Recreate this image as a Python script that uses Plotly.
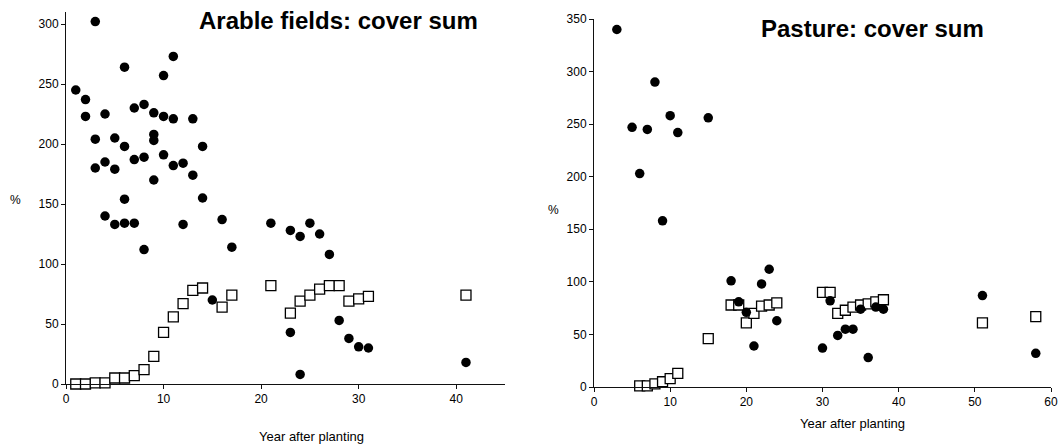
import plotly.graph_objects as go

# ---- Arable fields data ----
arable_circle_x = [1, 2, 2, 3, 3, 3, 4, 4, 4, 5, 5, 5, 6, 6, 6, 6, 7, 7, 7, 8, 8, 8,
                   9, 9, 9, 9, 10, 10, 10, 11, 11, 11, 12, 12, 13, 13, 14, 14,
                   15, 16, 17, 21, 23, 23, 24, 24, 25, 26, 27, 28, 29, 30, 31, 41]
arable_circle_y = [245, 237, 223, 302, 204, 180, 225, 185, 140, 205, 179, 133, 264, 198, 154, 134, 230, 187, 134, 233, 189, 112,
                   226, 208, 203, 170, 257, 223, 191, 273, 221, 182, 184, 133, 221, 174, 198, 155,
                   70, 137, 114, 134, 128, 43, 123, 8, 134, 125, 108, 53, 38, 31, 30, 18]
arable_square_x = [1, 2, 3, 4, 5, 6, 7, 8, 9, 10, 11, 12, 13, 14, 16, 17,
                   21, 23, 24, 25, 26, 27, 28, 29, 30, 31, 41]
arable_square_y = [0, 0, 1, 1, 5, 5, 7, 12, 23, 43, 56, 67, 78, 80, 64, 74,
                   82, 59, 69, 74, 79, 82, 82, 69, 71, 73, 74]

# ---- Pasture data ----
pasture_circle_x = [3, 5, 6, 7, 8, 9, 10, 11, 15, 18, 19, 20, 21, 22, 23, 24,
                    30, 31, 32, 33, 34, 35, 36, 37, 38, 51, 58]
pasture_circle_y = [340, 247, 203, 245, 290, 158, 258, 242, 256, 101, 81, 71, 39, 98, 112, 63,
                    37, 82, 49, 55, 55, 74, 28, 76, 74, 87, 32]
pasture_square_x = [6, 7, 8, 9, 10, 11, 15, 18, 19, 20, 21, 22, 23, 24,
                    30, 31, 32, 33, 34, 35, 36, 37, 38, 51, 58]
pasture_square_y = [1, 1, 3, 5, 8, 13, 46, 78, 78, 61, 70, 77, 78, 80,
                    90, 90, 70, 73, 76, 78, 79, 81, 83, 61, 67]

FONT = "Liberation Sans, Arial, sans-serif"

circle_marker = dict(symbol="circle", size=9.5, color="black", line=dict(width=0))
square_marker = dict(symbol="square", size=10, color="white", line=dict(width=1.3, color="black"))

fig = go.Figure()
fig.add_trace(go.Scatter(x=arable_square_x, y=arable_square_y, mode="markers",
                         marker=square_marker, xaxis="x", yaxis="y", cliponaxis=False))
fig.add_trace(go.Scatter(x=arable_circle_x, y=arable_circle_y, mode="markers",
                         marker=circle_marker, xaxis="x", yaxis="y", cliponaxis=False))
fig.add_trace(go.Scatter(x=pasture_square_x, y=pasture_square_y, mode="markers",
                         marker=square_marker, xaxis="x2", yaxis="y2", cliponaxis=False))
fig.add_trace(go.Scatter(x=pasture_circle_x, y=pasture_circle_y, mode="markers",
                         marker=circle_marker, xaxis="x2", yaxis="y2", cliponaxis=False))

W, H = 1058, 444

def px_x(p):
    return p / W

def px_y(p):
    return (H - p) / H

axis_common = dict(showgrid=False, zeroline=False, showline=True, linecolor="#111",
                   linewidth=1, ticks="outside", ticklen=4, tickcolor="#111",
                   tickfont=dict(family=FONT, size=12, color="black"))

fig.update_layout(
    template="none",
    width=W, height=H,
    margin=dict(l=0, r=0, t=0, b=0),
    paper_bgcolor="white", plot_bgcolor="white",
    font=dict(family=FONT, color="black"),
    showlegend=False,
    xaxis=dict(domain=[px_x(66), px_x(505)], range=[0, 45], tickvals=[0, 10, 20, 30, 40],
               anchor="y", **axis_common),
    yaxis=dict(domain=[px_y(384), px_y(12)], range=[0, 310], tickvals=[0, 50, 100, 150, 200, 250, 300],
               anchor="x", **axis_common),
    xaxis2=dict(domain=[px_x(594), px_x(1051)], range=[0, 60], tickvals=[0, 10, 20, 30, 40, 50, 60],
                anchor="y2", **axis_common),
    yaxis2=dict(domain=[px_y(387), px_y(19)], range=[0, 350], tickvals=[0, 50, 100, 150, 200, 250, 300, 350],
                anchor="x2", **axis_common),
)

def ann(text, x, y, size, bold=False, xanchor="center"):
    fig.add_annotation(text=f"<b>{text}</b>" if bold else text, x=px_x(x), y=px_y(y),
                       xref="paper", yref="paper", showarrow=False, xanchor=xanchor, yanchor="middle",
                       font=dict(family=FONT, size=size, color="black"))

ann("Arable fields: cover sum", 338, 21, 24, bold=True)
ann("Pasture: cover sum", 872, 28, 24, bold=True)
ann("%", 15, 200, 12)
ann("%", 553, 210, 12)
ann("Year after planting", 311, 436, 13)
ann("Year after planting", 852, 423, 13)

fig.write_html("out.html")
